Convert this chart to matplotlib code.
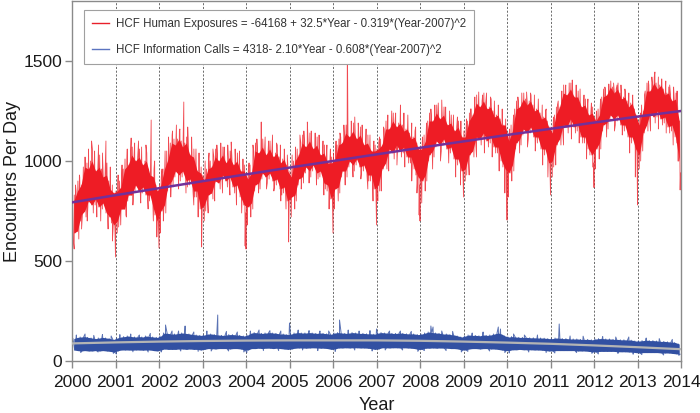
import numpy as np
import matplotlib
matplotlib.use("Agg")
from matplotlib import pyplot as plt
from matplotlib.lines import Line2D

plt.rcParams['font.family'] = ['Liberation Sans', 'DejaVu Sans']

years = list(range(2000, 2015))

# HCF human exposures: edges of the daily band, two readings per month
red_low = [
    600, 650, 700, 750, 770, 780, 780, 770, 760, 740, 720, 680,          # 2000
    700, 720, 760, 800, 830, 850, 850, 840, 830, 800, 760, 700,          # 2001
    720, 780, 850, 900, 920, 930, 920, 900, 880, 850, 820, 760,          # 2002
    780, 800, 840, 870, 890, 900, 900, 890, 870, 850, 820, 780,          # 2003
    740, 790, 850, 890, 910, 920, 910, 900, 880, 860, 840, 800,          # 2004
    790, 830, 880, 920, 940, 950, 950, 940, 920, 890, 850, 810,          # 2005
    830, 870, 920, 950, 970, 980, 980, 970, 950, 930, 900, 860,          # 2006
    880, 930, 990, 1030, 1040, 1050, 1050, 1040, 1020, 990, 960, 920,    # 2007
    870, 930, 1000, 1050, 1070, 1080, 1080, 1060, 1040, 1010, 980, 950,  # 2008
    960, 1000, 1050, 1090, 1110, 1110, 1100, 1090, 1070, 1040, 1000, 960,  # 2009
    900, 980, 1060, 1110, 1130, 1140, 1140, 1120, 1090, 1060, 1030, 990,   # 2010
    1000, 1050, 1110, 1150, 1170, 1180, 1170, 1150, 1120, 1090, 1060, 1030,  # 2011
    1030, 1090, 1150, 1190, 1200, 1210, 1200, 1180, 1150, 1120, 1090, 1060,  # 2012
    1030, 1110, 1180, 1210, 1220, 1220, 1210, 1190, 1170, 1150, 1120, 1000,  # 2013
]
red_low_b = [
    640, 610, 730, 720, 800, 740, 810, 740, 790, 700, 690, 640,
    670, 760, 730, 830, 800, 880, 820, 870, 800, 830, 730, 660,
    750, 740, 880, 870, 950, 900, 950, 870, 910, 820, 850, 720,
    750, 830, 810, 900, 860, 930, 870, 920, 840, 880, 790, 740,
    770, 760, 880, 860, 940, 890, 940, 870, 910, 830, 870, 760,
    820, 800, 910, 890, 970, 920, 980, 910, 950, 860, 880, 770,
    860, 840, 950, 920, 1000, 950, 1010, 940, 980, 900, 930, 820,
    850, 960, 960, 1060, 1010, 1080, 1020, 1070, 990, 1020, 930, 880,
    900, 900, 1030, 1020, 1100, 1050, 1110, 1030, 1070, 980, 1010, 910,
    930, 1030, 1020, 1120, 1080, 1140, 1070, 1120, 1040, 1070, 970, 920,
    940, 950, 1090, 1080, 1160, 1110, 1170, 1090, 1120, 1030, 1060, 950,
    970, 1080, 1080, 1180, 1140, 1210, 1140, 1180, 1090, 1120, 1030, 990,
    1060, 1060, 1180, 1160, 1230, 1180, 1230, 1150, 1180, 1090, 1120, 1020,
    1000, 1140, 1150, 1240, 1190, 1250, 1180, 1220, 1140, 1180, 1090, 940,
]
red_high = [
    800, 850, 920, 970, 990, 1000, 990, 970, 960, 930, 900, 880,         # 2000
    850, 900, 960, 1000, 1030, 1030, 1020, 1010, 1000, 960, 920, 880,    # 2001
    880, 960, 1050, 1090, 1110, 1110, 1100, 1090, 1060, 1020, 990, 940,  # 2002
    930, 960, 1000, 1020, 1030, 1030, 1020, 1020, 1010, 1000, 980, 950,  # 2003
    910, 980, 1050, 1070, 1070, 1060, 1060, 1050, 1040, 1020, 1010, 980,  # 2004
    950, 1000, 1060, 1090, 1100, 1100, 1090, 1080, 1060, 1040, 1020, 990,  # 2005
    1040, 1080, 1120, 1140, 1150, 1150, 1140, 1130, 1110, 1090, 1080, 1050,  # 2006
    1060, 1110, 1160, 1190, 1200, 1200, 1190, 1180, 1160, 1140, 1120, 1090,  # 2007
    1060, 1130, 1200, 1230, 1240, 1240, 1230, 1210, 1190, 1180, 1170, 1150,  # 2008
    1150, 1200, 1260, 1290, 1300, 1300, 1290, 1270, 1250, 1230, 1210, 1180,  # 2009
    1100, 1180, 1260, 1300, 1310, 1310, 1300, 1280, 1260, 1240, 1220, 1200,  # 2010
    1170, 1230, 1300, 1340, 1360, 1360, 1350, 1320, 1300, 1280, 1260, 1240,  # 2011
    1200, 1260, 1320, 1360, 1370, 1370, 1360, 1340, 1320, 1300, 1290, 1260,  # 2012
    1180, 1280, 1350, 1380, 1390, 1390, 1380, 1360, 1340, 1330, 1310, 1250,  # 2013
]
red_high_b = [
    830, 900, 880, 1010, 960, 1060, 950, 1030, 920, 990, 860, 840,
    880, 870, 1010, 980, 1070, 1000, 1060, 980, 1040, 930, 960, 850,
    920, 1000, 1010, 1130, 1080, 1150, 1070, 1120, 1030, 1060, 950, 970,
    900, 1000, 970, 1060, 1000, 1070, 990, 1050, 980, 1040, 950, 980,
    950, 940, 1090, 1040, 1110, 1030, 1100, 1020, 1080, 990, 1040, 950,
    920, 1040, 1030, 1130, 1070, 1140, 1060, 1120, 1030, 1080, 990, 1020,
    1000, 1110, 1090, 1180, 1120, 1190, 1110, 1170, 1080, 1130, 1050, 1080,
    1090, 1080, 1200, 1160, 1240, 1170, 1230, 1150, 1200, 1110, 1150, 1060,
    1100, 1100, 1240, 1200, 1280, 1210, 1270, 1180, 1230, 1150, 1200, 1120,
    1120, 1240, 1230, 1330, 1270, 1340, 1260, 1310, 1220, 1270, 1180, 1210,
    1140, 1150, 1300, 1270, 1340, 1280, 1330, 1250, 1290, 1210, 1250, 1170,
    1140, 1270, 1270, 1380, 1330, 1390, 1320, 1350, 1270, 1310, 1230, 1270,
    1230, 1230, 1360, 1330, 1400, 1340, 1390, 1310, 1350, 1270, 1320, 1230,
    1210, 1250, 1390, 1350, 1420, 1360, 1410, 1330, 1370, 1300, 1340, 1200,
]
# single days that stick out of the band: (year, encounters)
red_spikes = [
    (2000.08, 880), (2000.17, 930), (2000.30, 1020), (2000.38, 1060), (2000.45, 1100), (2000.52, 1050),
    (2000.61, 1080), (2000.70, 1040), (2000.78, 1100), (2000.88, 970), (2000.05, 560), (2000.22, 660),
    (2000.35, 700), (2000.57, 720), (2000.66, 700), (2000.83, 660), (2000.93, 600),
    (2001.0, 520), (2001.06, 930), (2001.15, 980), (2001.27, 1060), (2001.36, 1115), (2001.44, 1090),
    (2001.53, 1100), (2001.60, 1070), (2001.70, 1080), (2001.82, 1205), (2001.90, 1000), (2001.04, 640),
    (2001.12, 680), (2001.25, 720), (2001.40, 780), (2001.58, 790), (2001.75, 760), (2001.87, 700),
    (2001.95, 620),
    (2002.0, 565), (2002.07, 960), (2002.14, 1050), (2002.22, 1120), (2002.31, 1150), (2002.40, 1180),
    (2002.48, 1160), (2002.57, 1295), (2002.66, 1170), (2002.75, 1120), (2002.85, 1060), (2002.92, 1040),
    (2002.03, 640), (2002.10, 700), (2002.27, 820), (2002.45, 860), (2002.62, 840), (2002.80, 780),
    (2002.90, 720), (2002.98, 570),
    (2003.06, 1000), (2003.15, 1040), (2003.24, 1060), (2003.33, 1080), (2003.42, 1090), (2003.50, 1070),
    (2003.58, 1080), (2003.66, 1095), (2003.75, 1060), (2003.85, 1050), (2003.93, 1010), (2003.04, 700),
    (2003.13, 740), (2003.28, 800), (2003.46, 840), (2003.63, 830), (2003.78, 780), (2003.90, 740),
    (2003.98, 575),
    (2004.0, 560), (2004.07, 990), (2004.16, 1080), (2004.25, 1110), (2004.35, 1195), (2004.44, 1120),
    (2004.52, 1100), (2004.61, 1130), (2004.70, 1090), (2004.79, 1080), (2004.88, 1060), (2004.95, 1030),
    (2004.03, 680), (2004.11, 720), (2004.29, 840), (2004.47, 860), (2004.64, 850), (2004.80, 800),
    (2004.92, 760), (2004.98, 595),
    (2005.06, 1030), (2005.14, 1070), (2005.24, 1130), (2005.33, 1150), (2005.41, 1195), (2005.50, 1150),
    (2005.59, 1140), (2005.68, 1130), (2005.77, 1100), (2005.86, 1080), (2005.94, 1060), (2005.04, 720),
    (2005.12, 760), (2005.27, 860), (2005.45, 890), (2005.62, 880), (2005.79, 830), (2005.91, 760),
    (2006.0, 640), (2006.07, 1100), (2006.16, 1140), (2006.25, 1180), (2006.33, 1650), (2006.42, 1200),
    (2006.50, 1220), (2006.58, 1190), (2006.67, 1180), (2006.76, 1160), (2006.85, 1130), (2006.94, 1100),
    (2006.03, 760), (2006.12, 800), (2006.28, 880), (2006.46, 920), (2006.64, 910), (2006.80, 860),
    (2006.92, 800),
    (2007.0, 680), (2007.07, 1120), (2007.16, 1170), (2007.26, 1230), (2007.35, 1250), (2007.44, 1240),
    (2007.55, 1280), (2007.63, 1240), (2007.72, 1230), (2007.81, 1190), (2007.90, 1170), (2007.03, 800),
    (2007.11, 850), (2007.28, 950), (2007.47, 980), (2007.65, 970), (2007.81, 900), (2007.93, 840),
    (2007.98, 730),
    (2008.0, 700), (2008.06, 1120), (2008.15, 1190), (2008.25, 1260), (2008.34, 1280), (2008.42, 1290),
    (2008.50, 1305), (2008.59, 1270), (2008.68, 1250), (2008.77, 1230), (2008.86, 1220), (2008.94, 1200),
    (2008.04, 790), (2008.12, 850), (2008.29, 960), (2008.47, 1000), (2008.66, 990), (2008.82, 920),
    (2008.93, 880),
    (2009.0, 820), (2009.07, 1210), (2009.16, 1260), (2009.26, 1320), (2009.35, 1345), (2009.44, 1330),
    (2009.53, 1340), (2009.62, 1320), (2009.71, 1300), (2009.80, 1280), (2009.89, 1260), (2009.04, 900),
    (2009.13, 930), (2009.30, 1020), (2009.48, 1040), (2009.66, 1020), (2009.82, 950), (2009.95, 840),
    (2010.0, 705), (2010.06, 1160), (2010.15, 1230), (2010.25, 1320), (2010.34, 1340), (2010.45, 1345),
    (2010.54, 1340), (2010.63, 1330), (2010.72, 1310), (2010.81, 1280), (2010.90, 1260), (2010.03, 820),
    (2010.11, 900), (2010.29, 1040), (2010.47, 1070), (2010.65, 1050), (2010.82, 980), (2010.94, 920),
    (2011.0, 830), (2011.07, 1220), (2011.16, 1280), (2011.26, 1350), (2011.35, 1380), (2011.43, 1390),
    (2011.50, 1405), (2011.59, 1380), (2011.68, 1360), (2011.77, 1330), (2011.86, 1310), (2011.94, 1290),
    (2011.04, 920), (2011.12, 980), (2011.30, 1080), (2011.48, 1110), (2011.66, 1090), (2011.83, 1010),
    (2011.97, 970),
    (2012.0, 867), (2012.06, 1250), (2012.15, 1310), (2012.25, 1370), (2012.34, 1385), (2012.45, 1390),
    (2012.53, 1380), (2012.62, 1380), (2012.71, 1360), (2012.80, 1340), (2012.89, 1330), (2012.03, 960),
    (2012.12, 1010), (2012.29, 1120), (2012.47, 1150), (2012.65, 1130), (2012.82, 1040), (2012.95, 920),
    (2013.0, 780), (2013.07, 1240), (2013.16, 1330), (2013.25, 1400), (2013.33, 1420), (2013.40, 1445),
    (2013.48, 1420), (2013.56, 1410), (2013.65, 1400), (2013.74, 1380), (2013.83, 1370), (2013.91, 1350),
    (2013.04, 960), (2013.12, 1050), (2013.30, 1150), (2013.48, 1160), (2013.66, 1140), (2013.82, 1080),
    (2013.93, 1000), (2013.98, 855),
]

# HCF information calls: monthly lower / upper edge
blue_low = [
    55, 52, 50, 52, 50, 50, 52, 50, 52, 50, 48, 45,   # 2000
    50, 55, 55, 55, 54, 55, 55, 54, 55, 55, 52, 50,   # 2001
    55, 60, 58, 58, 58, 60, 60, 58, 60, 58, 58, 55,   # 2002
    58, 62, 62, 60, 62, 62, 62, 60, 62, 62, 60, 56,   # 2003
    55, 62, 62, 64, 62, 64, 64, 62, 64, 62, 60, 58,   # 2004
    60, 64, 65, 65, 64, 65, 66, 65, 64, 64, 62, 58,   # 2005
    60, 65, 65, 66, 65, 66, 66, 65, 65, 64, 62, 58,   # 2006
    60, 66, 66, 65, 66, 66, 65, 66, 65, 64, 62, 58,   # 2007
    58, 64, 64, 65, 64, 65, 64, 64, 62, 62, 60, 55,   # 2008
    55, 60, 62, 62, 60, 62, 62, 60, 60, 58, 55, 52,   # 2009
    52, 56, 56, 58, 56, 56, 56, 55, 55, 54, 52, 50,   # 2010
    50, 52, 52, 52, 52, 52, 52, 50, 50, 50, 48, 46,   # 2011
    45, 48, 48, 48, 48, 48, 46, 46, 46, 45, 44, 42,   # 2012
    40, 42, 42, 42, 42, 42, 40, 40, 40, 38, 36, 34,   # 2013
]
blue_high = [
    112, 118, 120, 122, 118, 115, 112, 115, 118, 115, 112, 108,  # 2000
    115, 120, 122, 125, 122, 120, 122, 120, 125, 122, 120, 118,  # 2001
    125, 140, 138, 135, 135, 138, 140, 138, 135, 132, 130, 128,  # 2002
    130, 135, 135, 132, 130, 128, 130, 132, 132, 130, 128, 125,  # 2003
    130, 140, 142, 140, 138, 140, 142, 140, 138, 135, 135, 132,  # 2004
    135, 140, 142, 140, 140, 142, 140, 138, 140, 138, 136, 134,  # 2005
    140, 142, 140, 138, 140, 142, 140, 138, 138, 136, 136, 134,  # 2006
    140, 142, 140, 140, 138, 138, 140, 138, 136, 136, 135, 132,  # 2007
    135, 140, 145, 142, 140, 138, 135, 135, 132, 130, 125, 120,  # 2008
    125, 130, 128, 128, 126, 130, 128, 130, 135, 140, 135, 125,  # 2009
    120, 122, 120, 118, 118, 118, 116, 116, 115, 115, 114, 112,  # 2010
    112, 115, 114, 112, 112, 110, 110, 110, 108, 108, 108, 106,  # 2011
    110, 112, 112, 110, 110, 108, 108, 106, 106, 105, 104, 100,  # 2012
    100, 102, 104, 102, 102, 100, 98, 98, 96, 95, 92, 85,        # 2013
]
blue_spikes = [
    (2000.1, 130), (2000.3, 135), (2000.5, 128), (2000.7, 132), (2000.9, 125), (2000.2, 42), (2000.6, 45), (2000.95, 38),
    (2001.1, 132), (2001.35, 135), (2001.55, 130), (2001.8, 138), (2001.02, 35), (2001.4, 46), (2001.75, 45),
    (2002.15, 180), (2002.3, 150), (2002.45, 150), (2002.6, 175), (2002.8, 145), (2002.05, 45), (2002.5, 50), (2002.9, 48),
    (2003.1, 150), (2003.35, 230), (2003.55, 148), (2003.8, 145), (2003.2, 50), (2003.6, 50), (2003.95, 45),
    (2004.1, 150), (2004.3, 155), (2004.55, 152), (2004.8, 150), (2004.02, 42), (2004.4, 52), (2004.75, 52),
    (2005.0, 190), (2005.2, 155), (2005.45, 152), (2005.7, 150), (2005.9, 150), (2005.3, 55), (2005.65, 52),
    (2006.15, 205), (2006.35, 155), (2006.6, 150), (2006.85, 152), (2006.05, 48), (2006.5, 55), (2006.9, 50),
    (2007.0, 160), (2007.3, 150), (2007.55, 150), (2007.8, 148), (2007.2, 55), (2007.6, 55), (2007.95, 48),
    (2008.25, 175), (2008.3, 170), (2008.5, 150), (2008.75, 148), (2008.1, 52), (2008.6, 52), (2008.95, 45),
    (2009.2, 140), (2009.45, 145), (2009.8, 170), (2009.85, 160), (2009.1, 48), (2009.6, 50), (2009.95, 42),
    (2010.15, 135), (2010.4, 130), (2010.7, 130), (2010.05, 40), (2010.5, 45), (2010.9, 42),
    (2011.2, 185), (2011.45, 125), (2011.75, 124), (2011.1, 40), (2011.6, 42), (2011.95, 38),
    (2012.2, 122), (2012.5, 120), (2012.8, 120), (2012.1, 35), (2012.55, 38), (2012.9, 34),
    (2013.2, 115), (2013.5, 112), (2013.8, 108), (2013.1, 32), (2013.6, 30), (2013.95, 28),
]

# fitted curves, value at the start of each year
red_fit = [793, 829, 864, 899, 933, 967, 1000, 1033, 1066, 1098, 1130, 1161, 1192, 1222, 1250]
blue_fit = [88, 93, 97, 100, 102, 103, 103, 103, 101, 97, 92, 86, 78, 69, 59]

red_label = 'HCF Human Exposures = -64168 + 32.5*Year - 0.319*(Year-2007)^2'
blue_label = 'HCF Information Calls = 4318- 2.10*Year - 0.608*(Year-2007)^2'


def band_series(spikes, *edges):
    # walk the readings of each month in turn (high, low, high, low ...), then add the odd days
    k = len(edges)
    t = []
    v = []
    for i in range(len(edges[0])):
        for j in range(k):
            t.append(2000 + (i + (j + 0.5) / k) / 12)
            v.append(edges[j][i])
    t = np.array(t + [s[0] for s in spikes])
    v = np.array(v + [s[1] for s in spikes])
    o = np.argsort(t, kind='stable')
    return t[o], v[o]


months = 2000 + (np.arange(len(red_low)) + 0.5) / 12

fig = plt.figure(figsize=(7, 4.13), dpi=100)
ax = fig.add_axes([72 / 700, 52 / 413, 609 / 700, 360 / 413])

red = '#ee1c25'
blue = '#3250a2'

core_lo = np.maximum(red_low, red_low_b)
core_hi = np.minimum(red_high, red_high_b)
ax.fill_between(months, core_lo, core_hi, color=red, lw=0, zorder=2)
rt, rv = band_series(red_spikes, red_high, red_low, red_high_b, red_low_b)
ax.plot(rt, rv, color=red, lw=0.6, alpha=0.8, zorder=2)

ax.fill_between(months, blue_low, blue_high, color=blue, lw=0, zorder=2)
bt, bv = band_series(blue_spikes, blue_high, blue_low)
ax.plot(bt, bv, color=blue, lw=0.7, alpha=0.8, zorder=2)

ax.plot(years, red_fit, color='#72309a', lw=1.8, zorder=3)
ax.plot(years, blue_fit, color='#b4b4b4', lw=1.6, zorder=3)

ax.set_xlim(2000, 2014)
ax.set_ylim(0, 1800)
ax.set_xticks(years)
ax.set_yticks([0, 500, 1000, 1500])
ax.grid(axis='x', color='#555555', ls=(0, (2.5, 2)), lw=0.6, zorder=0)
ax.set_axisbelow(True)

for s in ax.spines.values():
    s.set_color('#8a8a8a')
    s.set_linewidth(1)
ax.tick_params(direction='out', length=5, width=1, color='#8a8a8a',
               labelsize=12.5, labelcolor='#1a1a1a')
ax.tick_params(axis='x', pad=5)
ax.tick_params(axis='y', pad=2)

ax.set_xlabel('Year', fontsize=13, color='#1a1a1a', labelpad=5)
ax.set_ylabel('Encounters Per Day', fontsize=13, color='#1a1a1a')
ax.yaxis.set_label_coords(-0.084, 0.5)

handles = [Line2D([], [], color='#e8202a', lw=1), Line2D([], [], color='#5b74c0', lw=1)]
leg = ax.legend(handles, [red_label, blue_label], loc='upper left',
                bbox_to_anchor=(0.019, 0.975), borderaxespad=0, fontsize=8.3,
                fancybox=False, framealpha=1, edgecolor='#a0a0a0',
                handlelength=1.5, handletextpad=0.6, labelspacing=1.2,
                borderpad=0.7)
leg.get_frame().set_linewidth(0.8)
for tx in leg.get_texts():
    tx.set_color('#333333')

fig.savefig('out.png', dpi=100)
